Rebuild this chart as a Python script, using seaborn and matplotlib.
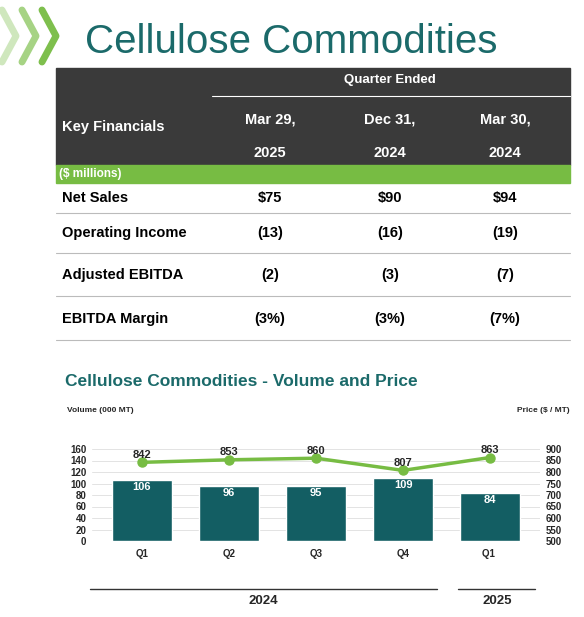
import matplotlib
matplotlib.use("Agg")
import matplotlib.pyplot as plt
import seaborn as sns
import pandas as pd
from matplotlib.lines import Line2D
from matplotlib.patches import Rectangle

sns.set_theme(style="white")
plt.rcParams['font.family'] = ['Liberation Sans', 'DejaVu Sans']

quarters = ["Q1", "Q2", "Q3", "Q4", "Q1 "]
volume = [106, 96, 95, 109, 84]
price = [842, 853, 860, 807, 863]
row_labels = ["Net Sales", "Operating Income", "Adjusted EBITDA", "EBITDA Margin"]
col_top = ["Mar 29,", "Dec 31,", "Mar 30,"]
col_bot = ["2025", "2024", "2024"]
table_vals = [["$75", "$90", "$94"], ["(13)", "(16)", "(19)"],
              ["(2)", "(3)", "(7)"], ["(3%)", "(3%)", "(7%)"]]

TEAL = "#135e63"
GREEN = "#77bc43"
W, H = 584, 617
fig = plt.figure(figsize=(W/100, H/100), dpi=100)

def fx(x): return x / W
def fy(y): return 1 - y / H

for i, x0 in enumerate([2, 22, 42]):
    fig.add_artist(Line2D([fx(x0), fx(x0+14), fx(x0)], [fy(10), fy(36), fy(62)],
                          color=GREEN, lw=5, alpha=0.35 + 0.3*i))
fig.text(fx(85), fy(42), "Cellulose Commodities", color="#1b6a6a", fontsize=29,
         va="center", ha="left")

fig.add_artist(Rectangle((fx(56), fy(165)), fx(514), 97/H, color="#3a3a3a"))
fig.add_artist(Rectangle((fx(56), fy(183)), fx(514), 18/H, color=GREEN))
fig.text(fx(390), fy(80), "Quarter Ended", color="white", fontsize=9.5, weight="bold",
         ha="center", va="center")
fig.add_artist(Line2D([fx(212), fx(570)], [fy(96), fy(96)], color="white", lw=0.8))
fig.text(fx(62), fy(127), "Key Financials", color="white", fontsize=10.5, weight="bold",
         va="center")
cx = [270, 390, 505]
for c, t, b in zip(cx, col_top, col_bot):
    fig.text(fx(c), fy(119), t, color="white", fontsize=10.5, weight="bold", ha="center", va="center")
    fig.text(fx(c), fy(153), b, color="white", fontsize=10.5, weight="bold", ha="center", va="center")
fig.text(fx(59), fy(174), "($ millions)", color="white", fontsize=8.5, weight="bold", va="center")
row_y = [198, 233, 275, 319]
lines_y = [213, 253, 296, 340]
for ry, ly, lab, vals in zip(row_y, lines_y, row_labels, table_vals):
    fig.text(fx(62), fy(ry), lab, fontsize=10.5, weight="bold", va="center", color="black")
    for c, v in zip(cx, vals):
        fig.text(fx(c), fy(ry), v, fontsize=10.5, weight="bold", ha="center", va="center", color="black")
    fig.add_artist(Line2D([fx(56), fx(570)], [fy(ly), fy(ly)], color="#bbbbbb", lw=0.8))

fig.text(fx(65), fy(382), "Cellulose Commodities - Volume and Price", color="#1b6a6a",
         fontsize=12.5, weight="bold", va="center")
fig.text(fx(67), fy(411), "Volume (000 MT)", fontsize=6, weight="bold", va="center")
fig.text(fx(570), fy(411), "Price ($ / MT)", fontsize=6, weight="bold", va="center", ha="right")

ax = fig.add_axes([fx(92), fy(541), fx(448), 92/H])
df = pd.DataFrame({"q": quarters, "v": volume, "p": price})
sns.barplot(data=df, x="q", y="v", color=TEAL, width=0.68, saturation=1, ax=ax)
ax.set_ylim(0, 160)
ax.set_yticks(range(0, 161, 20))
ax.grid(axis="y", color="#e3e3e3", lw=0.7)
ax.set_axisbelow(True)
for i, v in enumerate(volume):
    ax.text(i, v - 12, str(v), color="white", fontsize=8, weight="bold", ha="center", va="center")
ax2 = ax.twinx()
ax2.plot(range(len(price)), price, color=GREEN, lw=2.5, marker="o", ms=6.5)
ax2.set_ylim(500, 900)
ax2.set_yticks(range(500, 901, 50))
for i, p in enumerate(price):
    ax2.text(i, p + 33, str(p), fontsize=8, weight="bold", ha="center", va="center")
for a in (ax, ax2):
    for s in a.spines.values():
        s.set_visible(False)
    a.tick_params(length=0, labelsize=7, pad=4)
    for lab in a.get_yticklabels():
        lab.set_fontweight("bold")
ax.set_xlabel(""); ax.set_ylabel("")
ax.tick_params(axis="x", pad=6)
for lab in ax.get_xticklabels():
    lab.set_fontweight("bold")

fig.add_artist(Line2D([fx(90), fx(437)], [fy(589), fy(589)], color="#333333", lw=1))
fig.add_artist(Line2D([fx(458), fx(535)], [fy(589), fy(589)], color="#333333", lw=1))
fig.text(fx(263), fy(601), "2024", fontsize=9.5, weight="bold", ha="center", va="center")
fig.text(fx(497), fy(601), "2025", fontsize=9.5, weight="bold", ha="center", va="center")

fig.savefig("out.png", dpi=100)
